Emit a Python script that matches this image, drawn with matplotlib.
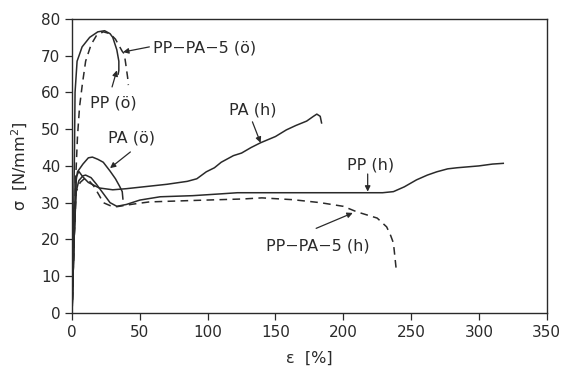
import matplotlib
matplotlib.use("Agg")
import matplotlib.pyplot as plt

# Dehnung [%] und Spannung [N/mm^2] je Kurve
pp_oe_x = [0, 1, 1.8, 2.2, 3.7, 7.4, 13, 19, 24, 28, 30, 33, 34.5, 34.5, 34]
pp_oe_y = [0, 20, 45, 60, 68.5, 72.4, 75, 76.5, 76.8, 76, 75, 71.6, 68.5, 66, 65]

ppa_oe_x = [0, 1, 2.5, 4, 5.5, 7.5, 10, 14, 18, 23, 28, 32, 35, 37, 38.5, 39.5, 41, 41.5]
ppa_oe_y = [0, 15, 35, 48, 56, 62, 68.5, 73, 75.5, 76.5, 76, 74.5, 72.5, 71.2, 70.5, 68, 64, 62]

pa_oe_x = [0, 1.5, 3, 4, 8, 12, 15, 19, 23, 28, 32, 35, 37, 37.5]
pa_oe_y = [0, 20, 36, 38.4, 40.5, 42.2, 42.4, 41.8, 41, 38.6, 36.5, 34.5, 33, 31]

pa_h_x = [0, 1.5, 3, 5, 8, 12, 20, 30, 40, 55, 70, 85, 92, 99, 105, 110, 119, 125,
          132, 139, 150, 158, 165, 173, 178, 180.5, 183, 184]
pa_h_y = [0, 20, 37, 38.5, 37, 35.5, 34, 33.5, 33.8, 34.4, 35, 35.8, 36.5, 38.4, 39.5,
          41, 42.8, 43.5, 45, 46.3, 48, 49.8, 51, 52.2, 53.5, 54.1, 53.5, 51.7]

pp_h_x = [0, 1.5, 3, 5, 8, 10, 14, 18, 23, 28, 33, 40, 50, 65, 89, 110, 122, 183, 229,
          237, 245, 254, 262, 269, 277, 284, 300, 310, 318]
pp_h_y = [0, 20, 33, 36, 37.3, 37.5, 36.8, 35, 32.5, 30, 29, 29.5, 30.7, 31.6, 31.9,
          32.4, 32.7, 32.7, 32.7, 33, 34.3, 36.2, 37.5, 38.4, 39.2, 39.5, 40, 40.5, 40.7]

ppa_h_x = [0, 1.5, 3, 6, 9, 12, 16, 20, 23, 28, 33, 45, 57, 90, 126, 140, 163, 183,
           200, 210, 225, 232, 235, 237, 239]
ppa_h_y = [0, 20, 33, 35.5, 36.5, 36.2, 34.5, 32, 30, 29.2, 28.9, 29.6, 30.2, 30.6, 31,
           31.3, 30.8, 30, 29, 27.5, 25.8, 23.4, 21, 19, 12]

x_ticks = [0, 50, 100, 150, 200, 250, 300, 350]
y_ticks = [0, 10, 20, 30, 40, 50, 60, 70, 80]

ink = "#2a2a2a"
plt.rcParams["font.family"] = ["DejaVu Sans"]

fig = plt.figure(figsize=(5.63, 3.72), dpi=100)
ax = fig.add_axes([0.128, 0.159, 0.843, 0.790])

solid = dict(color=ink, lw=1.1)
dashed = dict(color=ink, lw=1.1, ls=(0, (5, 3.5)))

ax.plot(pp_oe_x, pp_oe_y, **solid)
ax.plot(ppa_oe_x, ppa_oe_y, **dashed)
ax.plot(pa_oe_x, pa_oe_y, **solid)
ax.plot(pa_h_x, pa_h_y, **solid)
ax.plot(pp_h_x, pp_h_y, **solid)
ax.plot(ppa_h_x, ppa_h_y, **dashed)

arrow = dict(arrowstyle="-|>", color=ink, lw=0.9, mutation_scale=8, shrinkA=0, shrinkB=0)
txt = dict(fontsize=11.5, color=ink, ha="center", va="center")

# Beschriftungen mit Pfeilen
labels = [
    ("PP−PA−5 (ö)", (98, 72), (57, 72.4), (37.6, 71)),
    ("PP (ö)", (30.5, 57), (29.5, 61.5), (33, 66)),
    ("PA (ö)", (44, 47.6), (43, 43.8), (28, 39.4)),
    ("PA (h)", (133, 55.3), (133, 52), (139, 46.3)),
    ("PP (h)", (220, 40.2), (218, 37.8), (218, 33)),
    ("PP−PA−5 (h)", (181, 18.3), (180, 23), (207, 27.2)),
]
for text, pos, start, tip in labels:
    ax.text(pos[0], pos[1], text, **txt)
    ax.annotate("", xy=tip, xytext=start, arrowprops=arrow)

ax.set_xlim(0, 350)
ax.set_ylim(0, 80)
ax.set_xticks(x_ticks)
ax.set_yticks(y_ticks)
ax.tick_params(direction="out", length=5, width=0.9, colors=ink, labelsize=11)
for side in ax.spines.values():
    side.set_color(ink)
    side.set_linewidth(1.0)

ax.set_xlabel("ε  [%]", fontsize=11.5, color=ink, labelpad=8)
ax.set_ylabel("σ  [N/mm$^2$]", fontsize=11.5, color=ink, labelpad=8)

fig.savefig("out.png", dpi=100)
